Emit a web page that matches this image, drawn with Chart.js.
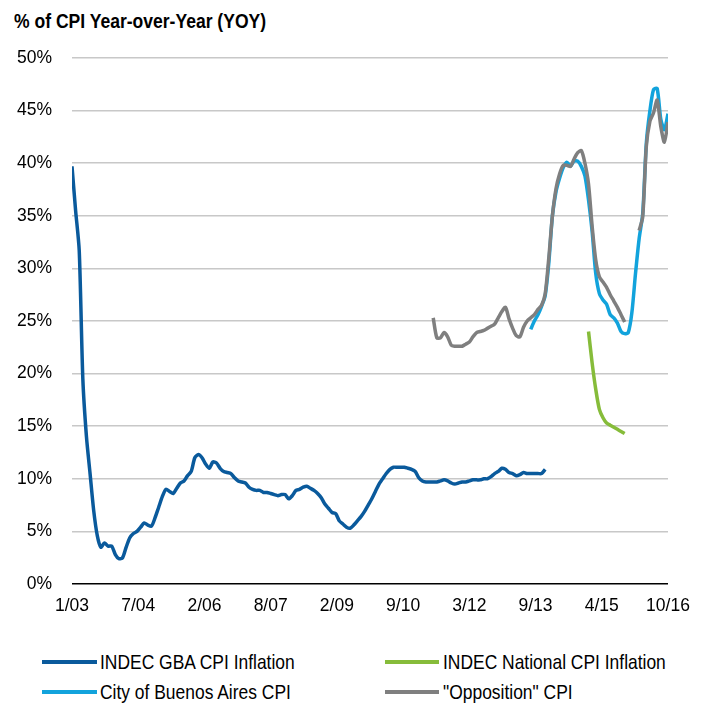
<!DOCTYPE html>
<html>
<head>
<meta charset="utf-8">
<script src="https://cdn.jsdelivr.net/npm/chart.js@4"></script>
<style>
html,body{margin:0;padding:0;background:#fff;}
body{width:707px;height:709px;position:relative;overflow:hidden;font-family:"Liberation Sans",Arial,sans-serif;color:#000;}
#title{position:absolute;left:14px;top:9px;font-weight:bold;font-size:21px;line-height:24px;white-space:nowrap;transform:scaleX(0.835);transform-origin:0 0;}
#wrap{position:absolute;left:0;top:0;width:707px;height:622px;}
.leg{position:absolute;font-size:21px;line-height:24px;white-space:nowrap;transform:scaleX(0.83);transform-origin:0 0;}
</style>
</head>
<body>
<div id="title">% of CPI Year-over-Year (YOY)</div>
<div id="wrap"><canvas id="c" width="707" height="622"></canvas></div>
<div id="legend"></div>
<script>
// ---- data (month index: 0 = Jan 2003) ----
const xTickLabels = ["1/03","7/04","2/06","8/07","2/09","9/10","3/12","9/13","4/15","10/16"];
const lastMonth = 165;

const seriesNames = ["INDEC GBA CPI Inflation","INDEC National CPI Inflation","City of Buenos Aires CPI","\"Opposition\" CPI"];
const seriesColors = ["#0A5A9C","#86BC3A","#12A3DC","#7F7F7F"];

const gbaStart = 0;
const gbaValues = [
 39.7,35.5,31.7,19.5,14.0,10.5,7.0,4.6,3.5,3.9,
 3.6,3.6,2.8,2.4,2.5,3.5,4.4,4.8,5.0,5.4,
 5.8,5.6,5.5,6.3,7.3,8.3,9.0,8.8,8.6,9.1,
 9.6,9.8,10.3,10.7,12.0,12.3,12.0,11.4,11.0,11.6,
 11.5,11.0,10.7,10.6,10.5,10.1,9.8,9.7,9.6,9.2,
 9.0,8.9,8.9,8.7,8.7,8.6,8.5,8.4,8.5,8.5,
 8.1,8.4,8.9,9.0,9.2,9.3,9.1,8.9,8.6,8.2,
 7.6,7.2,6.8,6.7,6.0,5.7,5.4,5.3,5.6,6.0,
 6.4,6.9,7.5,8.1,8.8,9.5,10.0,10.5,10.9,11.1,
 11.1,11.1,11.1,11.0,10.9,10.7,10.1,9.8,9.7,9.7,
 9.7,9.7,9.8,9.9,9.8,9.6,9.5,9.6,9.7,9.7,
 9.8,9.9,9.9,9.9,10.0,10.0,10.2,10.5,10.7,11.0,
 10.9,10.6,10.5,10.3,10.4,10.6,10.5,10.5,10.5,10.5,
 10.5,10.9
];

const nationalStart = 143;
const nationalValues = [24.0,21.0,18.5,16.6,15.8,15.3,15.1,14.9,14.7,14.5,14.3];

const cityStart = 127;
const cityValues = [
 24.2,25.0,25.6,26.4,27.4,30.5,35.0,37.3,38.6,39.6,
 40.1,39.7,40.2,40.2,39.7,38.8,36.5,33.5,29.5,27.6,
 27.0,26.6,25.6,25.3,24.8,24.0,23.8,23.9,25.8,29.5,
 32.8,35.2,41.9,45.0,47.0,47.1,44.2,43.2,44.7
];

const oppStart = 100;
const oppValues = [
 25.3,23.4,23.4,23.9,23.5,22.7,22.6,22.6,22.6,22.8,
 23.0,23.5,23.9,24.0,24.1,24.3,24.5,24.7,25.3,25.9,
 26.3,25.2,24.3,23.6,23.5,24.4,25.0,25.3,25.6,26.1,
 26.5,27.6,31.0,35.0,37.6,39.0,39.8,39.8,39.7,40.4,
 41.0,41.2,40.0,38.0,34.0,30.8,29.2,28.7,28.2,27.5,
 26.9,26.3,25.6,24.9,null,null,null,33.6,34.9,41.6,
 44.0,44.8,46.0,43.5,42.0,43.9
];

function pts(start, vals){ return vals.map((v,i)=>({x:start+i, y:v})); }

const allSeries = [
  {start:gbaStart, vals:gbaValues, order:3},
  {start:nationalStart, vals:nationalValues, order:2},
  {start:cityStart, vals:cityValues, order:1},
  {start:oppStart, vals:oppValues, order:0}
];

const datasets = allSeries.map((s,i)=>({
  label: seriesNames[i],
  data: pts(s.start, s.vals),
  borderColor: seriesColors[i],
  backgroundColor: seriesColors[i],
  borderWidth: 3.5,
  pointRadius: 0,
  tension: 0.25,
  spanGaps: false,
  order: s.order
}));

const FONT = "'Liberation Sans', Arial, sans-serif";

new Chart(document.getElementById('c'), {
  type: 'line',
  data: { datasets },
  options: {
    responsive: false,
    animation: false,
    events: [],
    layout: { padding: { left: 0, right: 39, top: 58, bottom: 0 } },
    plugins: { legend: { display: false }, title: { display: false }, tooltip: { enabled: false } },
    scales: {
      x: {
        type: 'linear',
        min: 0, max: lastMonth,
        grid: { display: false, drawTicks: false },
        border: { display: false },
        afterBuildTicks: (scale) => {
          scale.ticks = xTickLabels.map((l,i)=>({ value: i*lastMonth/(xTickLabels.length-1) }));
        },
        afterFit: (scale) => { scale.height = 38; },
        ticks: {
          autoSkip: false, maxRotation: 0,
          padding: 12,
          color: '#000',
          font: { family: FONT, size: 17.5 },
          callback: (v, i) => xTickLabels[i]
        }
      },
      y: {
        min: 0, max: 50,
        afterFit: (scale) => { scale.width = 72; },
        grid: {
          drawTicks: false,
          lineWidth: 1.5,
          color: (ctx) => ctx.tick && ctx.tick.value === 0 ? '#000000' : '#C8C8C8'
        },
        border: { display: false },
        ticks: {
          stepSize: 5,
          padding: 20,
          color: '#000',
          font: { family: FONT, size: 17.5 },
          callback: (v) => v + '%'
        }
      }
    }
  }
});

// HTML legend
const legPos = [
  {x:42, y:650, w:55, tx:100},
  {x:385, y:650, w:54, tx:443},
  {x:42, y:680, w:55, tx:100},
  {x:385, y:680, w:54, tx:443}
];
const legend = document.getElementById('legend');
seriesNames.forEach((n,i)=>{
  const p = legPos[i];
  const sw = document.createElement('div');
  sw.style.cssText = `position:absolute;left:${p.x}px;top:${p.y+10}px;width:${p.w}px;height:3.5px;background:${seriesColors[i]};`;
  legend.appendChild(sw);
  const t = document.createElement('div');
  t.className = 'leg';
  t.style.left = p.tx + 'px';
  t.style.top = p.y + 'px';
  t.textContent = n;
  legend.appendChild(t);
});
</script>
</body>
</html>
